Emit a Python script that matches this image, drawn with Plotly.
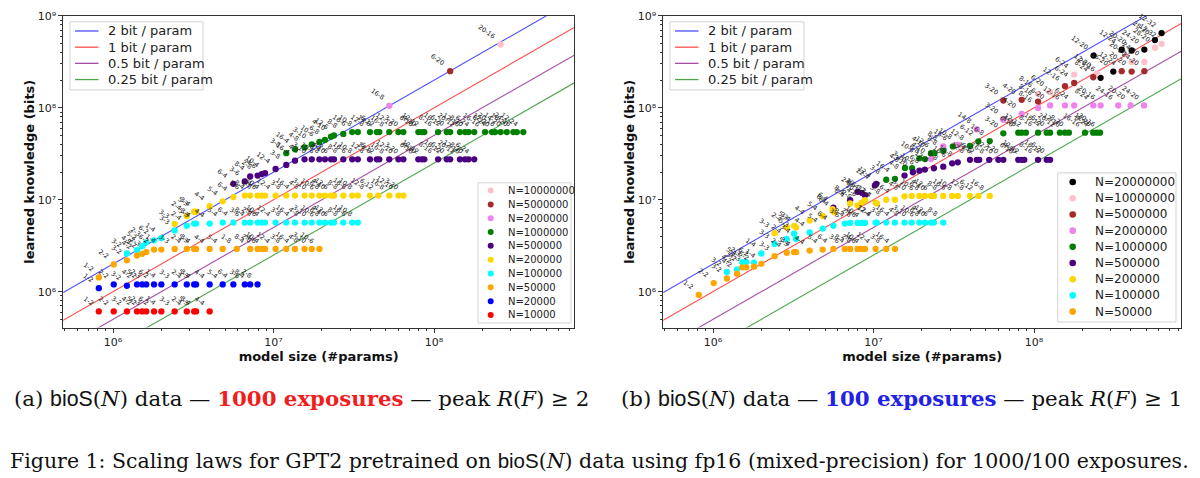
import numpy as np
import plotly.graph_objects as go

# ---------------- data ----------------
bits_per_param = [2, 1, 0.5, 0.25]
line_names = ["2 bit / param", "1 bit / param", "0.5 bit / param", "0.25 bit / param"]
line_colors = ["rgba(0,0,255,0.7)", "rgba(255,0,0,0.7)", "rgba(128,0,128,0.7)", "rgba(0,128,0,0.7)"]

x_ticks = [1e6, 1e7, 1e8]
x_tick_text = ["10⁶", "10⁷", "10⁸"]
y_ticks = [1e6, 1e7, 1e8, 1e9]
y_tick_text = ["10⁶", "10⁷", "10⁸", "10⁹"]

# model configurations (layers-heads) and their approximate sizes
cfg_size = [8.15e5, 1.01e6, 1.22e6, 1.41e6, 1.52e6, 1.61e6, 1.80e6, 2.00e6, 2.42e6, 2.88e6,
            3.20e6, 3.29e6, 4.00e6, 4.82e6, 5.62e6, 5.90e6, 6.62e6, 7.15e6, 7.95e6, 8.44e6,
            8.85e6, 1.03e7, 1.20e7, 1.36e7, 1.56e7, 1.73e7, 1.93e7, 2.09e7, 2.28e7, 2.38e7,
            2.72e7, 3.09e7, 3.35e7, 3.99e7, 4.40e7, 4.56e7, 5.26e7, 6.00e7, 6.44e7, 7.98e7,
            8.38e7, 8.70e7, 1.06e8, 1.20e8, 1.26e8, 1.45e8, 1.56e8, 1.64e8, 1.78e8, 2.08e8,
            2.30e8, 2.40e8, 2.60e8, 2.84e8, 3.12e8, 3.28e8, 3.52e8, 4.06e8, 4.87e8, 5.67e8,
            6.24e8]
cfg_label = ["1-2", "2-2", "3-2", "4-2", "5-2", "2-3", "6-2", "1-4", "3-3", "2-4",
             "5-3", "3-4", "4-4", "5-4", "6-4", "1-8", "3-6", "8-4", "2-8", "4-6",
             "10-4", "12-4", "3-8", "16-4", "4-8", "3-10", "10-6", "6-8", "4-10", "12-6",
             "8-8", "16-6", "10-8", "12-8", "14-8", "6-12", "16-8", "12-10", "3-20", "6-16",
             "4-20", "12-12", "8-16", "16-12", "6-20", "20-12", "12-16", "8-20", "6-24", "16-16",
             "8-24", "12-20", "20-16", "14-20", "16-20", "24-16", "12-24", "20-20", "24-20", "28-20",
             "12-32"]

# ---- (a) 1000 exposures ----
a_n10000_x = [8.15e5, 1.01e6, 1.22e6, 1.41e6, 1.52e6, 1.61e6, 1.80e6, 2.00e6, 2.42e6, 2.88e6,
              3.20e6, 3.29e6, 4.00e6]
a_n10000_y = [6.1e5, 6.1e5, 6.1e5, 6.1e5, 6.1e5, 6.1e5, 6.1e5, 6.1e5, 6.1e5, 6.1e5,
              6.1e5, 6.1e5, 6.1e5]

a_n20000_x = [8.15e5, 1.01e6, 1.22e6, 1.41e6, 1.52e6, 1.61e6, 1.80e6, 2.00e6, 2.42e6, 2.88e6,
              3.20e6, 3.29e6, 4.00e6, 4.82e6, 5.62e6, 6.62e6, 7.15e6, 7.95e6]
a_n20000_y = [1.09e6, 1.20e6, 1.16e6, 1.20e6, 1.20e6, 1.20e6, 1.20e6, 1.20e6, 1.20e6, 1.20e6,
              1.20e6, 1.20e6, 1.20e6, 1.20e6, 1.20e6, 1.20e6, 1.20e6, 1.20e6]

a_n50000_x = [8.15e5, 1.01e6, 1.22e6, 1.41e6, 1.52e6, 1.61e6, 1.80e6, 2.00e6, 2.42e6, 2.88e6,
              3.20e6, 3.29e6, 4.00e6, 4.82e6, 5.90e6, 7.15e6, 7.95e6, 8.44e6, 8.85e6, 1.03e7,
              1.20e7, 1.36e7, 1.56e7, 1.73e7, 1.93e7]
a_n50000_y = [1.43e6, 1.98e6, 2.19e6, 2.47e6, 2.58e6, 2.69e6, 2.87e6, 2.87e6, 2.92e6, 2.92e6,
              2.92e6, 2.92e6, 2.92e6, 2.92e6, 2.92e6, 2.92e6, 2.92e6, 2.92e6, 2.92e6, 2.92e6,
              2.92e6, 2.92e6, 2.92e6, 2.92e6, 2.92e6]

a_n100000_x = [1.22e6, 1.41e6, 1.52e6, 1.61e6, 1.80e6, 2.00e6, 2.42e6, 2.88e6, 3.20e6, 3.29e6,
               4.00e6, 4.82e6, 5.62e6, 6.62e6, 7.15e6, 7.95e6, 8.44e6, 8.85e6, 1.03e7, 1.20e7,
               1.36e7, 1.56e7, 1.73e7, 1.93e7, 2.09e7, 2.28e7, 2.38e7, 2.72e7, 3.09e7, 3.35e7]
a_n100000_y = [2.60e6, 2.83e6, 3.12e6, 3.44e6, 3.62e6, 3.83e6, 4.63e6, 5.20e6, 5.50e6, 5.50e6,
               5.50e6, 5.65e6, 5.65e6, 5.65e6, 5.65e6, 5.65e6, 5.65e6, 5.65e6, 5.65e6, 5.65e6,
               5.65e6, 5.65e6, 5.65e6, 5.65e6, 5.65e6, 5.65e6, 5.65e6, 5.65e6, 5.65e6, 5.65e6]

a_n200000_x = [2.42e6, 2.88e6, 3.20e6, 3.29e6, 4.00e6, 4.82e6, 5.62e6, 6.62e6, 7.15e6, 7.95e6,
               8.44e6, 8.85e6, 1.03e7, 1.20e7, 1.36e7, 1.56e7, 1.73e7, 1.93e7, 2.09e7, 2.28e7,
               2.38e7, 2.72e7, 3.09e7, 3.35e7, 3.99e7, 4.50e7, 5.26e7, 6.00e7, 6.44e7]
a_n200000_y = [5.45e6, 6.65e6, 7.40e6, 7.40e6, 8.50e6, 9.60e6, 1.07e7, 1.11e7, 1.11e7, 1.11e7,
               1.11e7, 1.11e7, 1.11e7, 1.11e7, 1.11e7, 1.11e7, 1.11e7, 1.11e7, 1.11e7, 1.11e7,
               1.11e7, 1.11e7, 1.11e7, 1.11e7, 1.11e7, 1.11e7, 1.11e7, 1.11e7, 1.11e7]

a_n500000_x = [5.62e6, 6.62e6, 7.15e6, 7.95e6, 8.44e6, 8.85e6, 1.03e7, 1.20e7, 1.36e7, 1.56e7,
               1.73e7, 1.93e7, 2.09e7, 2.28e7, 2.38e7, 2.72e7, 3.09e7, 3.35e7, 3.99e7, 4.40e7,
               4.56e7, 5.26e7, 6.00e7, 6.44e7, 7.98e7, 8.38e7, 8.70e7, 1.06e8, 1.20e8, 1.26e8,
               1.45e8, 1.56e8, 1.64e8, 1.78e8]
a_n500000_y = [1.49e7, 1.58e7, 1.79e7, 1.83e7, 1.90e7, 1.95e7, 2.16e7, 2.39e7, 2.66e7, 2.75e7,
               2.75e7, 2.75e7, 2.75e7, 2.75e7, 2.75e7, 2.75e7, 2.75e7, 2.75e7, 2.75e7, 2.75e7,
               2.75e7, 2.75e7, 2.75e7, 2.75e7, 2.75e7, 2.75e7, 2.75e7, 2.75e7, 2.75e7, 2.75e7,
               2.75e7, 2.75e7, 2.75e7, 2.75e7]

a_n1000000_x = [1.20e7, 1.36e7, 1.56e7, 1.73e7, 1.93e7, 2.09e7, 2.28e7, 2.38e7, 2.72e7, 3.09e7,
                3.35e7, 3.99e7, 4.40e7, 4.56e7, 5.26e7, 6.00e7, 6.44e7, 7.98e7, 8.38e7, 8.70e7,
                1.06e8, 1.20e8, 1.26e8, 1.45e8, 1.56e8, 1.64e8, 1.78e8, 2.08e8, 2.30e8, 2.40e8,
                2.60e8, 2.84e8, 3.12e8, 3.28e8, 3.60e8]
a_n1000000_y = [3.21e7, 3.55e7, 3.70e7, 4.00e7, 4.25e7, 4.47e7, 4.85e7, 5.00e7, 5.20e7, 5.45e7,
                5.45e7, 5.45e7, 5.45e7, 5.45e7, 5.45e7, 5.45e7, 5.45e7, 5.45e7, 5.45e7, 5.45e7,
                5.45e7, 5.45e7, 5.45e7, 5.45e7, 5.45e7, 5.45e7, 5.45e7, 5.45e7, 5.45e7, 5.45e7,
                5.45e7, 5.45e7, 5.45e7, 5.45e7, 5.45e7]

a_n2000000_x = [5.26e7]
a_n2000000_y = [1.05e8]
a_n5000000_x = [1.26e8]
a_n5000000_y = [2.50e8]
a_n10000000_x = [2.60e8]
a_n10000000_y = [4.88e8]

# ---- (b) 100 exposures ----
b_n50000_x = [8.15e5, 1.01e6, 1.22e6, 1.41e6, 1.52e6, 1.61e6, 1.80e6, 2.00e6, 2.42e6, 2.88e6,
              3.20e6, 3.29e6, 4.00e6, 4.82e6, 5.62e6, 6.62e6, 7.15e6, 7.95e6, 8.44e6, 8.85e6,
              1.03e7, 1.20e7, 1.36e7]
b_n50000_y = [9.20e5, 1.24e6, 1.39e6, 1.57e6, 1.84e6, 1.84e6, 1.87e6, 2.01e6, 2.43e6, 2.64e6,
              2.69e6, 2.69e6, 2.80e6, 2.87e6, 2.92e6, 2.92e6, 2.92e6, 2.92e6, 2.92e6, 2.92e6,
              2.92e6, 2.92e6, 2.92e6]

b_n100000_x = [1.22e6, 1.41e6, 1.52e6, 1.61e6, 1.80e6, 2.00e6, 2.42e6, 2.88e6, 3.20e6, 3.29e6,
               4.00e6, 4.82e6, 5.62e6, 6.62e6, 7.15e6, 7.95e6, 8.44e6, 8.85e6, 1.03e7, 1.05e7,
               1.20e7, 1.36e7, 1.56e7, 1.73e7, 1.93e7, 2.09e7, 2.28e7, 2.38e7, 2.72e7]
b_n100000_y = [1.64e6, 1.75e6, 2.10e6, 2.10e6, 2.07e6, 2.60e6, 3.30e6, 3.74e6, 4.27e6, 3.74e6,
               4.40e6, 4.85e6, 5.20e6, 5.50e6, 5.60e6, 5.60e6, 5.60e6, 5.60e6, 5.65e6, 5.65e6,
               5.65e6, 5.65e6, 5.65e6, 5.65e6, 5.65e6, 5.65e6, 5.65e6, 5.65e6, 5.65e6]

b_n200000_x = [2.42e6, 2.88e6, 3.20e6, 3.29e6, 4.00e6, 4.82e6, 5.55e6, 5.70e6, 7.15e6, 7.95e6,
               8.44e6, 8.85e6, 1.03e7, 1.05e7, 1.20e7, 1.36e7, 1.56e7, 1.73e7, 1.93e7, 2.09e7,
               2.28e7, 2.38e7, 2.72e7, 3.09e7, 3.35e7, 3.99e7, 4.50e7, 5.30e7]
b_n200000_y = [4.33e6, 5.00e6, 5.20e6, 5.00e6, 5.93e6, 6.65e6, 7.90e6, 7.30e6, 9.10e6, 8.70e6,
               9.30e6, 9.90e6, 9.30e6, 9.10e6, 1.00e7, 1.00e7, 1.09e7, 1.10e7, 1.10e7, 1.10e7,
               1.10e7, 1.10e7, 1.10e7, 1.10e7, 1.10e7, 1.10e7, 1.10e7, 1.10e7]

b_n500000_x = [5.62e6, 7.15e6, 7.95e6, 8.44e6, 8.85e6, 1.02e7, 1.04e7, 1.56e7, 1.76e7, 1.93e7,
               2.09e7, 2.38e7, 2.72e7, 3.09e7, 3.35e7, 3.99e7, 4.40e7, 4.56e7, 5.26e7, 6.00e7,
               6.44e7, 7.98e7, 8.38e7, 8.70e7, 1.06e8, 1.20e8, 1.26e8]
b_n500000_y = [8.20e6, 9.90e6, 1.22e7, 1.19e7, 1.12e7, 1.43e7, 1.49e7, 1.83e7, 1.99e7, 2.07e7,
               2.13e7, 2.20e7, 2.29e7, 2.49e7, 2.55e7, 2.72e7, 2.72e7, 2.72e7, 2.72e7, 2.72e7,
               2.72e7, 2.72e7, 2.72e7, 2.72e7, 2.72e7, 2.72e7, 2.72e7]

b_n1000000_x = [1.20e7, 1.36e7, 1.57e7, 1.74e7, 1.93e7, 2.09e7, 2.28e7, 2.40e7, 2.72e7, 3.12e7,
                3.99e7, 4.50e7, 5.30e7, 6.44e7, 7.98e7, 8.38e7, 8.90e7, 1.06e8, 1.20e8, 1.26e8,
                1.45e8, 1.56e8, 1.65e8, 2.08e8, 2.34e8, 2.46e8, 2.58e8]
b_n1000000_y = [1.65e7, 1.69e7, 2.22e7, 2.20e7, 2.82e7, 2.77e7, 3.21e7, 3.21e7, 3.40e7, 3.80e7,
                3.85e7, 4.30e7, 4.35e7, 5.27e7, 5.36e7, 5.36e7, 5.36e7, 5.36e7, 5.36e7, 5.36e7,
                5.36e7, 5.36e7, 5.36e7, 5.36e7, 5.36e7, 5.36e7, 5.36e7]

b_n2000000_x = [2.28e7, 2.72e7, 3.35e7, 4.40e7, 6.44e7, 8.38e7, 1.06e8, 1.26e8, 1.56e8, 1.78e8,
                2.34e8, 2.60e8, 3.35e8, 4.00e8, 4.85e8]
b_n2000000_y = [2.77e7, 3.80e7, 3.95e7, 5.82e7, 7.40e7, 8.57e7, 9.95e7, 1.06e8, 1.06e8, 1.06e8,
                1.06e8, 1.06e8, 1.06e8, 1.06e8, 1.06e8]

b_n5000000_x = [6.44e7, 8.38e7, 1.06e8, 1.56e8, 1.78e8, 2.34e8, 3.52e8, 4.06e8, 4.87e8]
b_n5000000_y = [1.20e8, 1.22e8, 1.17e8, 1.72e8, 1.86e8, 2.15e8, 2.50e8, 2.48e8, 2.50e8]

b_n10000000_x = [1.06e8, 1.26e8, 1.78e8, 2.46e8, 4.06e8, 4.87e8, 5.67e8, 6.24e8]
b_n10000000_y = [1.42e8, 1.48e8, 2.30e8, 2.37e8, 3.15e8, 3.15e8, 4.50e8, 4.97e8]

b_n20000000_x = [2.35e8, 2.60e8, 3.12e8, 3.52e8, 4.06e8, 4.87e8, 5.67e8, 6.24e8]
b_n20000000_y = [3.70e8, 2.12e8, 2.48e8, 4.28e8, 4.20e8, 4.30e8, 5.45e8, 6.50e8]

# ---------------- series bookkeeping ----------------
series_a = [
    ("N=10000000", "pink", a_n10000000_x, a_n10000000_y),
    ("N=5000000", "brown", a_n5000000_x, a_n5000000_y),
    ("N=2000000", "violet", a_n2000000_x, a_n2000000_y),
    ("N=1000000", "green", a_n1000000_x, a_n1000000_y),
    ("N=500000", "indigo", a_n500000_x, a_n500000_y),
    ("N=200000", "gold", a_n200000_x, a_n200000_y),
    ("N=100000", "cyan", a_n100000_x, a_n100000_y),
    ("N=50000", "orange", a_n50000_x, a_n50000_y),
    ("N=20000", "blue", a_n20000_x, a_n20000_y),
    ("N=10000", "red", a_n10000_x, a_n10000_y),
]
series_b = [
    ("N=20000000", "black", b_n20000000_x, b_n20000000_y),
    ("N=10000000", "pink", b_n10000000_x, b_n10000000_y),
    ("N=5000000", "brown", b_n5000000_x, b_n5000000_y),
    ("N=2000000", "violet", b_n2000000_x, b_n2000000_y),
    ("N=1000000", "green", b_n1000000_x, b_n1000000_y),
    ("N=500000", "indigo", b_n500000_x, b_n500000_y),
    ("N=200000", "gold", b_n200000_x, b_n200000_y),
    ("N=100000", "cyan", b_n100000_x, b_n100000_y),
    ("N=50000", "orange", b_n50000_x, b_n50000_y),
]
for nm, _, xs, ys in series_a + series_b:
    if len(xs) != len(ys):
        raise ValueError(f"length mismatch {nm}: {len(xs)} vs {len(ys)}")

log_cfg = np.log10(cfg_size)


def cfg_name(v):
    return cfg_label[int(np.argmin(np.abs(log_cfg - np.log10(v))))]


# ---------------- figure ----------------
W, H = 1200, 478
FONT = "DejaVu Sans"
SERIF = "DejaVu Serif"


def px_x(p):
    return p / W


def px_y(p):
    return 1 - p / H


XDOM_A = [px_x(63.3), px_x(574)]
XDOM_B = [px_x(663.3), px_x(1181)]
YDOM = [px_y(325.7), px_y(10)]

fig = go.Figure()

line_x = [1e5, 1e10]
for xa, ya in (("x", "y"), ("x2", "y2")):
    for c, nm, col in zip(bits_per_param, line_names, line_colors):
        fig.add_trace(go.Scatter(
            x=line_x, y=[c * v for v in line_x], mode="lines",
            line=dict(color=col, width=1.1), name=nm, showlegend=False,
            xaxis=xa, yaxis=ya, hoverinfo="skip"))

annotations = []
for series, xa, ya in ((series_a, "x", "y"), (series_b, "x2", "y2")):
    for nm, col, xs, ys in series:
        fig.add_trace(go.Scatter(
            x=xs, y=ys, mode="markers", name=nm, showlegend=False,
            marker=dict(color=col, size=6.3, line=dict(width=0)),
            xaxis=xa, yaxis=ya, hoverinfo="skip"))
        for xv, yv in zip(xs, ys):
            annotations.append(dict(
                x=float(np.log10(xv)), y=float(np.log10(yv)), xref=xa, yref=ya,
                text=cfg_name(xv), showarrow=False, textangle=35,
                font=dict(family=FONT, size=6.5, color="#262626"),
                xanchor="right", yanchor="bottom", xshift=-1, yshift=1))

# manual legends (boxes, handles and texts)
shapes = []


def legend_box(x0, y0, x1, y1):
    shapes.append(dict(type="rect", xref="paper", yref="paper",
                       x0=px_x(x0), x1=px_x(x1), y0=px_y(y1), y1=px_y(y0),
                       line=dict(color="#d3d3d3", width=1),
                       fillcolor="rgba(255,255,255,0.85)", layer="above"))


def legend_text(tx, yy, text, fsize):
    annotations.append(dict(x=px_x(tx), y=px_y(yy), xref="paper", yref="paper",
                            text=text, showarrow=False, xanchor="left", yanchor="middle",
                            font=dict(family=FONT, size=fsize, color="#222")))


def n_legend(series, box, mx, tx, y0, dy, fsize, msize):
    legend_box(*box)
    for i, (nm, col, _, _) in enumerate(series):
        yy = y0 + i * dy
        shapes.append(dict(type="circle", xref="paper", yref="paper",
                           xsizemode="pixel", ysizemode="pixel",
                           xanchor=px_x(mx), yanchor=px_y(yy),
                           x0=-msize, x1=msize, y0=-msize, y1=msize,
                           fillcolor=col, line=dict(width=0), layer="above"))
        legend_text(tx, yy, nm, fsize)


def line_legend(box, hx0, hx1, tx, y0, dy, fsize):
    legend_box(*box)
    for i, (nm, col) in enumerate(zip(line_names, line_colors)):
        yy = y0 + i * dy
        shapes.append(dict(type="line", xref="paper", yref="paper",
                           x0=px_x(hx0), x1=px_x(hx1), y0=px_y(yy), y1=px_y(yy),
                           line=dict(color=col, width=1.3), layer="above"))
        legend_text(tx, yy, nm, fsize)


line_legend((70, 16, 203, 85), 75, 98.5, 106, 25.3, 16.4, 13)
line_legend((670, 16, 804, 85), 675, 698.5, 706, 25.3, 16.4, 13)
n_legend(series_a, (478, 179, 571, 321), 490.7, 505.5, 186.9, 14.0, 10, 3)
n_legend(series_b, (1057.7, 169, 1176, 320), 1072.7, 1092.5, 178.3, 16.4, 12, 3.3)

# captions
annotations.append(dict(
    x=px_x(301), y=px_y(397), xref="paper", yref="paper", showarrow=False,
    xanchor="center", yanchor="middle",
    font=dict(family=SERIF, size=21.3, color="#111"),
    text=("(a) <span style='font-family:Liberation Sans'>bioS</span>(<i>N</i>) data — "
          "<b><span style='color:#f01e1e'>1000 exposures</span></b> — peak <i>R</i>(<i>F</i>) ≥ 2")))
annotations.append(dict(
    x=px_x(901), y=px_y(397), xref="paper", yref="paper", showarrow=False,
    xanchor="center", yanchor="middle",
    font=dict(family=SERIF, size=21.3, color="#111"),
    text=("(b) <span style='font-family:Liberation Sans'>bioS</span>(<i>N</i>) data — "
          "<b><span style='color:#2222e6'>100 exposures</span></b> — peak <i>R</i>(<i>F</i>) ≥ 1")))
annotations.append(dict(
    x=px_x(599), y=px_y(461), xref="paper", yref="paper", showarrow=False,
    xanchor="center", yanchor="middle",
    font=dict(family=SERIF, size=20.5, color="#111"),
    text=("Figure 1: Scaling laws for GPT2 pretrained on "
          "<span style='font-family:Liberation Sans'>bioS</span>(<i>N</i>) data using fp16 "
          "(mixed-precision) for 1000/100 exposures.")))

minor_vals = [k * 10.0 ** e for e in range(5, 10) for k in range(2, 10)]

axis_common = dict(
    type="log", showgrid=False, zeroline=False, showline=True, linecolor="#333",
    linewidth=1, mirror=True, ticks="outside", ticklen=4, tickwidth=1, tickcolor="#333",
    tickfont=dict(family=FONT, size=11, color="#222"),
    minor=dict(tickvals=minor_vals, ticks="outside", ticklen=2, tickwidth=0.7,
               tickcolor="#333", showgrid=False),
)
xtitle = dict(text="<b>model size (#params)</b>", font=dict(family=FONT, size=13, color="#111"),
              standoff=0)
ytitle = dict(text="<b>learned knowledge (bits)</b>", font=dict(family=FONT, size=13, color="#111"),
              standoff=0)

fig.update_layout(
    width=W, height=H, autosize=False,
    margin=dict(l=0, r=0, t=0, b=0),
    paper_bgcolor="white", plot_bgcolor="white",
    showlegend=False,
    xaxis=dict(axis_common, domain=XDOM_A, range=[5.690, 8.872], anchor="y",
               tickvals=x_ticks, ticktext=x_tick_text, title=xtitle),
    yaxis=dict(axis_common, domain=YDOM, range=[5.609, 9.0], anchor="x",
               tickvals=y_ticks, ticktext=y_tick_text, title=ytitle),
    xaxis2=dict(axis_common, domain=XDOM_B, range=[5.690, 8.916], anchor="y2",
                tickvals=x_ticks, ticktext=x_tick_text, title=xtitle),
    yaxis2=dict(axis_common, domain=YDOM, range=[5.609, 9.0], anchor="x2",
                tickvals=y_ticks, ticktext=y_tick_text, title=ytitle),
    annotations=annotations,
    shapes=shapes,
)

fig.write_html("out.html", config={"displayModeBar": False})
